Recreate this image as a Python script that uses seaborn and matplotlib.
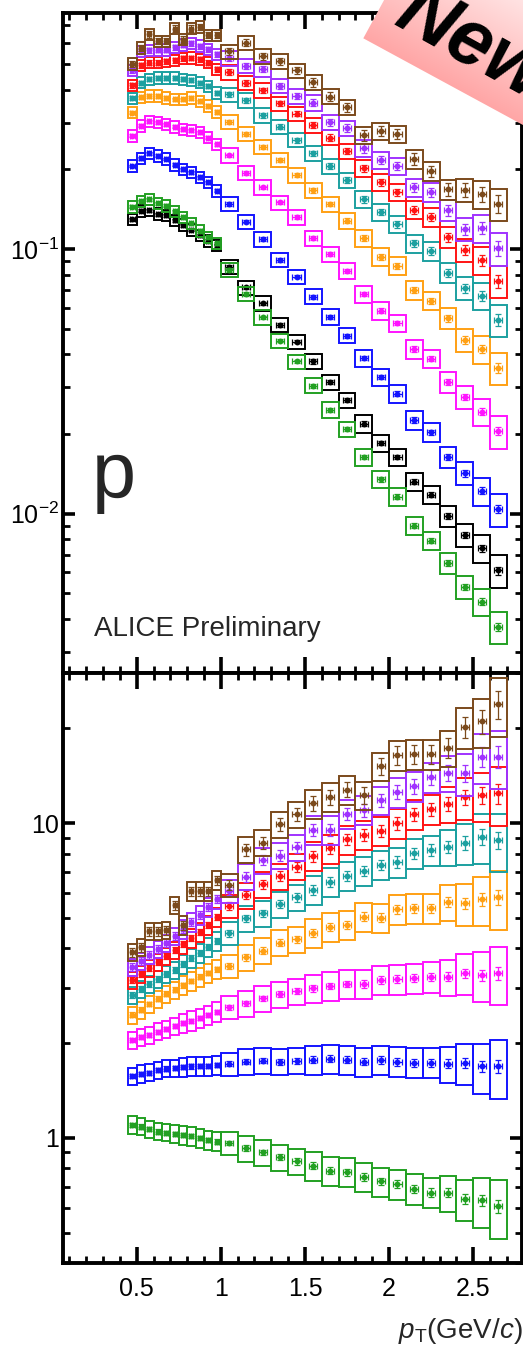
import numpy as np
import pandas as pd
import matplotlib
matplotlib.use("Agg")
import matplotlib.pyplot as plt
from matplotlib.patches import Rectangle, Polygon
from matplotlib.ticker import MultipleLocator, LogLocator, NullFormatter
import seaborn as sns

# ---------------------------------------------------------------- data
pt_edges = [0.45, 0.50, 0.55, 0.60, 0.65, 0.70, 0.75, 0.80, 0.85, 0.90, 0.95, 1.00,
            1.10, 1.20, 1.30, 1.40, 1.50, 1.60, 1.70, 1.80, 1.90, 2.00, 2.10, 2.20,
            2.30, 2.40, 2.50, 2.60, 2.70]

# transverse-momentum spectra per multiplicity class
spec_black = [0.1297, 0.1395, 0.1403, 0.1356, 0.1340, 0.1286, 0.1232, 0.1180, 0.1129, 0.1074, 0.1035,
              0.0855, 0.0716, 0.0624, 0.0517, 0.0447, 0.0376, 0.0314, 0.0268, 0.0219, 0.0185, 0.0164,
              0.0132, 0.0118, 0.0098, 0.0083, 0.0074, 0.0061]
spec_green = [0.1446, 0.1513, 0.1541, 0.1487, 0.1456, 0.1388, 0.1318, 0.1250, 0.1172, 0.1107, 0.1051,
              0.0833, 0.0676, 0.0552, 0.0451, 0.0376, 0.0305, 0.0247, 0.0209, 0.0164, 0.0135, 0.0116,
              0.0090, 0.0079, 0.0065, 0.0053, 0.00465, 0.00373]
spec_blue = [0.206, 0.220, 0.230, 0.225, 0.219, 0.208, 0.200, 0.195, 0.187, 0.179, 0.166,
             0.148, 0.127, 0.109, 0.0909, 0.0786, 0.0661, 0.0555, 0.0471, 0.0387, 0.0328, 0.0284,
             0.0226, 0.0203, 0.0164, 0.0142, 0.0122, 0.0104]
spec_magenta = [0.268, 0.292, 0.304, 0.301, 0.296, 0.290, 0.284, 0.281, 0.276, 0.264, 0.249,
                0.226, 0.194, 0.171, 0.150, 0.132, 0.110, 0.0957, 0.0828, 0.0676, 0.0585, 0.0525,
                0.0419, 0.0385, 0.0314, 0.0276, 0.0243, 0.0205]
spec_orange = [0.328, 0.374, 0.379, 0.379, 0.372, 0.368, 0.368, 0.372, 0.362, 0.347, 0.330,
               0.302, 0.272, 0.243, 0.217, 0.190, 0.167, 0.148, 0.128, 0.110, 0.0935, 0.0865,
               0.0700, 0.0638, 0.0548, 0.0454, 0.0419, 0.0355]
spec_teal = [0.371, 0.426, 0.438, 0.443, 0.443, 0.443, 0.438, 0.434, 0.426, 0.412, 0.390,
             0.384, 0.365, 0.320, 0.290, 0.258, 0.230, 0.206, 0.182, 0.154, 0.138, 0.124,
             0.105, 0.0983, 0.0815, 0.0712, 0.0667, 0.0540]
spec_red = [0.416, 0.495, 0.507, 0.507, 0.512, 0.517, 0.525, 0.527, 0.521, 0.507, 0.478,
            0.466, 0.425, 0.398, 0.355, 0.325, 0.294, 0.264, 0.235, 0.202, 0.179, 0.164,
            0.141, 0.132, 0.111, 0.0991, 0.0908, 0.0757]
spec_purple = [0.474, 0.559, 0.564, 0.567, 0.567, 0.578, 0.592, 0.599, 0.585, 0.569, 0.544,
               0.526, 0.492, 0.478, 0.413, 0.378, 0.357, 0.301, 0.287, 0.240, 0.217, 0.206,
               0.171, 0.164, 0.140, 0.119, 0.120, 0.1005]
spec_brown = [0.502, 0.577, 0.647, 0.610, 0.610, 0.681, 0.619, 0.681, 0.690, 0.643, 0.643,
              0.558, 0.603, 0.535, 0.512, 0.473, 0.427, 0.377, 0.343, 0.269, 0.279, 0.272,
              0.219, 0.197, 0.168, 0.167, 0.161, 0.148]

# ratios to the reference (black) class
ratio_green = [1.100, 1.086, 1.066, 1.047, 1.039, 1.030, 1.022, 1.010, 0.998, 0.985, 0.973,
               0.962, 0.927, 0.898, 0.868, 0.841, 0.815, 0.787, 0.778, 0.750, 0.727, 0.713,
               0.689, 0.670, 0.670, 0.639, 0.632, 0.605]
ratio_blue = [1.573, 1.597, 1.612, 1.644, 1.660, 1.665, 1.677, 1.685, 1.693, 1.693, 1.705,
              1.718, 1.747, 1.760, 1.747, 1.756, 1.769, 1.786, 1.769, 1.747, 1.769, 1.747,
              1.734, 1.734, 1.718, 1.726, 1.685, 1.685]
ratio_magenta = [2.047, 2.088, 2.123, 2.175, 2.213, 2.268, 2.313, 2.357, 2.399, 2.458, 2.518,
                 2.600, 2.677, 2.777, 2.859, 2.923, 2.987, 3.038, 3.083, 3.083, 3.174, 3.190,
                 3.214, 3.252, 3.252, 3.334, 3.293, 3.334]
ratio_orange = [2.458, 2.549, 2.663, 2.763, 2.866, 2.951, 3.049, 3.151, 3.245, 3.341, 3.428,
                3.516, 3.747, 3.932, 4.169, 4.274, 4.485, 4.687, 4.746, 5.041, 5.005, 5.321,
                5.360, 5.360, 5.625, 5.560, 5.725, 5.809]
ratio_teal = [2.844, 2.966, 3.083, 3.190, 3.309, 3.415, 3.568, 3.728, 3.867, 4.040, 4.221,
              4.464, 4.984, 5.170, 5.533, 5.809, 6.130, 6.512, 6.789, 7.041, 7.357, 7.536,
              8.013, 8.209, 8.410, 8.660, 9.048, 8.832]
ratio_red = [3.174, 3.316, 3.465, 3.620, 3.783, 3.953, 4.129, 4.314, 4.508, 4.746, 5.030,
             5.452, 5.908, 6.389, 6.789, 7.265, 7.857, 8.313, 8.878, 9.161, 9.454, 9.978,
             10.68, 11.05, 11.49, 12.07, 12.27, 12.43]
ratio_purple = [3.490, 3.646, 3.811, 3.981, 4.159, 4.377, 4.607, 4.851, 5.105, 5.412, 5.737,
                6.084, 6.754, 7.630, 7.875, 8.373, 9.501, 9.501, 10.68, 11.00, 11.83, 12.57,
                13.11, 13.97, 14.45, 14.38, 16.24, 16.24]
ratio_brown = [3.895, 4.040, 4.541, 4.541, 4.575, 5.492, 4.746, 6.084, 6.084, 6.084, 6.592,
               6.357, 8.252, 8.660, 9.927, 10.68, 11.55, 12.12, 12.79, 12.27, 15.17, 16.44,
               16.56, 16.56, 17.39, 20.22, 21.08, 23.86]

# relative uncertainties per pT bin
syst_spec = [0.05, 0.05, 0.05, 0.05, 0.05, 0.05, 0.05, 0.05, 0.05, 0.05, 0.05,
             0.062, 0.062, 0.062, 0.062, 0.062, 0.066, 0.066, 0.066, 0.075, 0.075, 0.075,
             0.08, 0.08, 0.09, 0.10, 0.12, 0.14]
syst_ratio = [0.063, 0.063, 0.063, 0.063, 0.063, 0.063, 0.07, 0.07, 0.07, 0.07, 0.07,
              0.085, 0.095, 0.095, 0.095, 0.095, 0.105, 0.105, 0.105, 0.105, 0.105, 0.11,
              0.11, 0.11, 0.13, 0.15, 0.18, 0.21]
stat_spec = [0.025, 0.025, 0.025, 0.025, 0.025, 0.025, 0.025, 0.025, 0.025, 0.025, 0.025,
             0.03, 0.03, 0.03, 0.03, 0.03, 0.035, 0.035, 0.035, 0.04, 0.04, 0.04,
             0.045, 0.045, 0.05, 0.055, 0.06, 0.07]
stat_ratio = [0.03, 0.03, 0.03, 0.03, 0.03, 0.03, 0.03, 0.03, 0.03, 0.03, 0.03,
              0.035, 0.04, 0.04, 0.045, 0.045, 0.05, 0.05, 0.05, 0.055, 0.055, 0.06,
              0.06, 0.06, 0.065, 0.07, 0.08, 0.09]

classes = ["black", "green", "blue", "magenta", "orange", "teal", "red", "purple", "brown"]
stat_scale = [0.5, 0.5, 0.5, 0.5, 0.6, 0.7, 0.8, 0.9, 1.1]
palette = {"black": "#000000", "green": "#22a022", "blue": "#1414ff", "magenta": "#ff14ff",
           "orange": "#ffa014", "teal": "#1ca0a0", "red": "#ff1414", "purple": "#a032ff",
           "brown": "#7b4a1c"}

spectra = {"black": spec_black, "green": spec_green, "blue": spec_blue, "magenta": spec_magenta,
           "orange": spec_orange, "teal": spec_teal, "red": spec_red, "purple": spec_purple,
           "brown": spec_brown}
ratios = {"green": ratio_green, "blue": ratio_blue, "magenta": ratio_magenta,
          "orange": ratio_orange, "teal": ratio_teal, "red": ratio_red,
          "purple": ratio_purple, "brown": ratio_brown}

# ---------------------------------------------------------------- style
sns.set_theme(style="ticks")
plt.rcParams["font.family"] = ["Liberation Sans", "DejaVu Sans"]
plt.rcParams["mathtext.fontset"] = "custom"
plt.rcParams["mathtext.rm"] = "Liberation Sans"
plt.rcParams["mathtext.it"] = "Liberation Sans:italic"
plt.rcParams["mathtext.bf"] = "Liberation Sans:bold"

W, H = 523, 1352
fig = plt.figure(figsize=(W / 100, H / 100), dpi=100)
fig.patch.set_facecolor("white")
L, R = 63, 522
ax_top = fig.add_axes([L / W, 1 - 673 / H, (R - L) / W, (673 - 13) / H])
ax_bot = fig.add_axes([L / W, 1 - 1263 / H, (R - L) / W, (1263 - 673) / H])

edges = np.array(pt_edges)
lo_e, hi_e = edges[:-1], edges[1:]
centers = 0.5 * (lo_e + hi_e)
widths = hi_e - lo_e


def draw_class(ax, vals, syst, stat, color, z):
    vals = np.asarray(vals)
    syst = np.asarray(syst)
    stat = np.asarray(stat)
    for xl, w, v, s in zip(lo_e, widths, vals, syst):
        ax.add_patch(Rectangle((xl, v * (1 - s)), w, 2 * v * s, fill=False,
                               edgecolor=color, lw=1.4, zorder=z))
    ax.errorbar(centers, vals, yerr=vals * stat, xerr=0.24 * widths, fmt="none",
                ecolor=color, elinewidth=0.9, capsize=2.2, capthick=0.9, zorder=z + 0.1)
    df = pd.DataFrame({"pt": centers, "val": vals})
    sns.scatterplot(data=df, x="pt", y="val", color=color, s=18, linewidth=0,
                    ax=ax, zorder=z + 0.2, legend=False)


for i, (cls, sc) in enumerate(zip(classes, stat_scale)):
    draw_class(ax_top, spectra[cls], syst_spec, np.array(stat_spec) * sc, palette[cls], 3 + i)
    if cls in ratios:
        draw_class(ax_bot, ratios[cls], syst_ratio, np.array(stat_ratio) * sc, palette[cls], 3 + i)

# ---------------------------------------------------------------- axes
for ax in (ax_top, ax_bot):
    ax.set_yscale("log")
    ax.set_xlim(0.062, 2.79)
    ax.set_xlabel("")
    ax.set_ylabel("")
    ax.xaxis.set_major_locator(MultipleLocator(0.5))
    ax.xaxis.set_minor_locator(MultipleLocator(0.1))
    ax.yaxis.set_minor_locator(LogLocator(base=10, subs=np.arange(2, 10)))
    ax.yaxis.set_minor_formatter(NullFormatter())
    ax.tick_params(which="both", direction="in", top=True, right=True,
                   bottom=True, left=True, colors="black")
    ax.tick_params(axis="x", which="major", length=11.5, width=2.6, pad=10, labelsize=18)
    ax.tick_params(axis="x", which="minor", length=5.2, width=2.0)
    ax.tick_params(axis="y", which="major", length=8.4, width=2.6, pad=3, labelsize=18)
    ax.tick_params(axis="y", which="minor", length=4.8, width=2.0)
    for sp in ax.spines.values():
        sp.set_linewidth(2.8)
        sp.set_color("black")
        sp.set_visible(True)
    ax.set_facecolor("white")
    ax.grid(False)

ax_top.set_ylim(0.0025, 0.78)
ax_top.set_yticks([0.01, 0.1])
ax_top.set_yticklabels([r"$\mathdefault{10^{-2}}$", r"$\mathdefault{10^{-1}}$"])
ax_top.tick_params(axis="x", labelbottom=False)

ax_bot.set_ylim(0.40, 30)
ax_bot.set_yticks([1, 10])
ax_bot.set_yticklabels(["1", "10"])
ax_bot.set_xticks([0.5, 1.0, 1.5, 2.0, 2.5])
ax_bot.set_xticklabels(["0.5", "1", "1.5", "2", "2.5"])

ax_top.text(0.063, 0.266, "p", transform=ax_top.transAxes, fontsize=57,
            ha="left", va="baseline")
ax_top.text(0.068, 0.056, "ALICE Preliminary", transform=ax_top.transAxes,
            fontsize=20, ha="left", va="baseline")

fig.text(1.0, 1 - 1338 / H, r"$p_{\mathrm{T}}$(GeV/$c$)", fontsize=20,
         ha="right", va="baseline")

# ---------------------------------------------------------------- "New" banner
ov = fig.add_axes([0, 0, 1, 1], zorder=20)
ov.set_xlim(0, W)
ov.set_ylim(H, 0)
ov.axis("off")
ov.patch.set_alpha(0)

ang = np.deg2rad(28.5)
p0 = np.array([363.3, 38.3])
d = np.array([np.cos(ang), np.sin(ang)])
n = np.array([np.sin(ang), -np.cos(ang)])
band = np.array([p0, p0 + 400 * d, p0 + 400 * d + 260 * n, p0 + 260 * n])
poly = Polygon(band, closed=True, facecolor="none", edgecolor="none")
ov.add_patch(poly)

gx0, gx1, gy0, gy1 = 340, W, 0, 150
gx, gy = np.meshgrid(np.linspace(gx0, gx1, 240), np.linspace(gy0, gy1, 180))
dist = (gx - p0[0]) * n[0] + (gy - p0[1]) * n[1]
t = np.clip(dist / 110.0, 0, 1)[..., None]
c_edge = np.array([1.0, 0.65, 0.65])
c_far = np.array([1.0, 0.89, 0.89])
img = c_edge * (1 - t) + c_far * t
im = ov.imshow(img, extent=(gx0, gx1, gy1, gy0), origin="upper", interpolation="bilinear",
               aspect="auto", zorder=1)
im.set_clip_path(poly)

ov.text(392, 24, "New", fontsize=56, fontweight="bold", fontstyle="italic",
        rotation=-29, rotation_mode="anchor", ha="left", va="baseline",
        color="black", zorder=2)

fig.savefig("out.png", dpi=100)
